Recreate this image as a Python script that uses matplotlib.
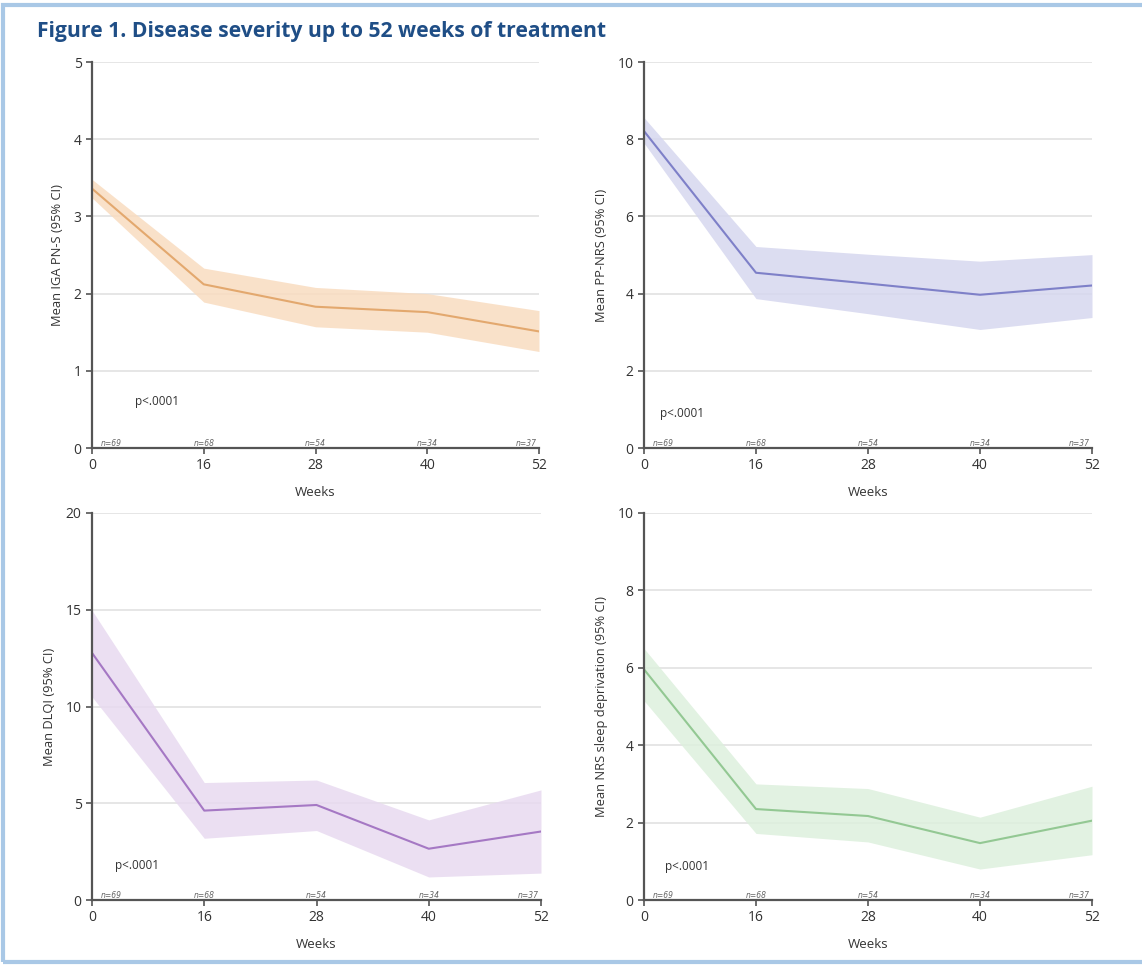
import matplotlib
matplotlib.use("Agg")
import matplotlib.pyplot as plt
from matplotlib.patches import Rectangle

weeks = ["0", "16", "28", "40", "52"]
n_labels = ["n=69", "n=68", "n=54", "n=34", "n=37"]

iga_mean = [3.36, 2.12, 1.83, 1.76, 1.51]
iga_low = [3.24, 1.89, 1.57, 1.50, 1.25]
iga_high = [3.48, 2.33, 2.08, 2.00, 1.78]

ppnrs_mean = [8.21, 4.54, 4.26, 3.97, 4.21]
ppnrs_low = [7.90, 3.87, 3.48, 3.07, 3.38]
ppnrs_high = [8.56, 5.22, 5.02, 4.84, 5.01]

dlqi_mean = [12.77, 4.62, 4.91, 2.65, 3.54]
dlqi_low = [10.5, 3.19, 3.59, 1.19, 1.39]
dlqi_high = [14.97, 6.07, 6.20, 4.14, 5.69]

sleep_mean = [5.96, 2.35, 2.17, 1.47, 2.05]
sleep_low = [5.15, 1.72, 1.50, 0.80, 1.17]
sleep_high = [6.50, 3.00, 2.88, 2.14, 2.94]

panels = [
    dict(mean=iga_mean, low=iga_low, high=iga_high, ylim=5, yticks=[0, 1, 2, 3, 4, 5],
         ylabel="Mean IGA PN-S (95% CI)", line="#E3A86E", band="#F9DCC0",
         rect=[92, 62, 539, 448], p=(0.096, 0.104)),
    dict(mean=ppnrs_mean, low=ppnrs_low, high=ppnrs_high, ylim=10, yticks=[0, 2, 4, 6, 8, 10],
         ylabel="Mean PP-NRS (95% CI)", line="#7E80C8", band="#D6D7EF",
         rect=[644, 62, 1092, 448], p=(0.036, 0.073)),
    dict(mean=dlqi_mean, low=dlqi_low, high=dlqi_high, ylim=20, yticks=[0, 5, 10, 15, 20],
         ylabel="Mean DLQI (95% CI)", line="#A578C4", band="#E8DAF0",
         rect=[92, 513, 541, 900], p=(0.051, 0.072)),
    dict(mean=sleep_mean, low=sleep_low, high=sleep_high, ylim=10, yticks=[0, 2, 4, 6, 8, 10],
         ylabel="Mean NRS sleep deprivation (95% CI)", line="#93C893", band="#DDF0DD",
         rect=[644, 513, 1092, 900], p=(0.047, 0.070)),
]

W, H = 1142, 965
fig = plt.figure(figsize=(W / 100, H / 100), dpi=100)
fig.patch.set_facecolor("white")

# light blue frame (right edge cut off like the reference)
fig.patches.append(Rectangle((3 / W, 3 / H), (W + 20) / W, (H - 8) / H, transform=fig.transFigure,
                             fill=False, edgecolor="#A9C8E6", linewidth=3))

fig.text(37 / W, 1 - 31 / H, "Figure 1. Disease severity up to 52 weeks of treatment",
         fontsize=15.2, fontweight="bold", color="#1F4E86", family="Open Sans",
         ha="left", va="center")

axis_col = "#555555"
x = list(range(len(weeks)))
for pnl in panels:
    l, t, r, b = pnl["rect"]
    ax = fig.add_axes([l / W, 1 - b / H, (r - l) / W, (b - t) / H])
    ax.set_xlim(0, len(weeks) - 1)
    ax.set_ylim(0, pnl["ylim"])
    ax.set_yticks(pnl["yticks"])
    ax.set_xticks(x)
    ax.set_xticklabels(weeks)
    for yv in pnl["yticks"][1:]:
        ax.axhline(yv, color="#E2E2E2", linewidth=1.2, zorder=0)
    ax.fill_between(x, pnl["low"], pnl["high"], color=pnl["band"], alpha=0.85, linewidth=0, zorder=1)
    ax.plot(x, pnl["mean"], color=pnl["line"], linewidth=1.5, zorder=2)
    for s in ["top", "right"]:
        ax.spines[s].set_visible(False)
    for s in ["left", "bottom"]:
        ax.spines[s].set_color(axis_col)
        ax.spines[s].set_linewidth(1.6)
    ax.tick_params(axis="both", direction="out", length=4, width=1.2, color=axis_col,
                   labelcolor="#333333", labelsize=10)
    for lab in ax.get_xticklabels() + ax.get_yticklabels():
        lab.set_family("Open Sans")
    ax.set_ylabel(pnl["ylabel"], fontsize=9.3, color="#333333", family="Open Sans", labelpad=7)
    ax.set_xlabel("Weeks", fontsize=9.5, color="#333333", family="Open Sans", labelpad=9)
    ax.text(pnl["p"][0], pnl["p"][1], "p<.0001", transform=ax.transAxes, fontsize=8.5,
            color="#333333", family="Open Sans", ha="left", va="bottom")
    for i, nl in enumerate(n_labels):
        if i == 0:
            xi, ha = 0.08, "left"
        elif i == len(n_labels) - 1:
            xi, ha = len(n_labels) - 1 - 0.02, "right"
        else:
            xi, ha = i, "center"
        ax.text(xi, 0, nl, transform=ax.get_xaxis_transform(), fontsize=5.5, style="italic",
                color="#666666", family="DejaVu Sans", ha=ha, va="bottom")
    ax.set_facecolor("none")

fig.savefig("out.png", dpi=100, facecolor="white")
